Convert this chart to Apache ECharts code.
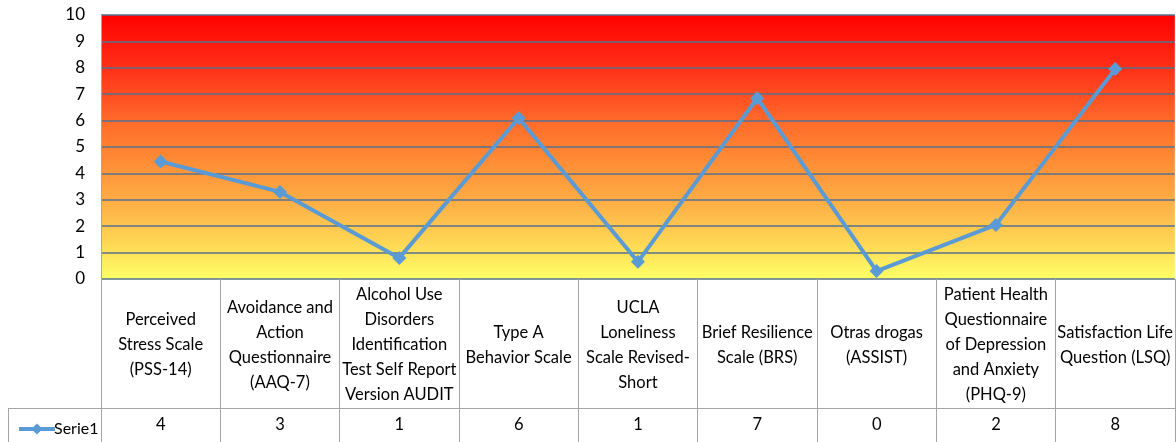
<!DOCTYPE html>
<html>
<head>
<meta charset="utf-8">
<script src="https://cdn.jsdelivr.net/npm/echarts@6/dist/echarts.min.js"></script>
<style>
html,body{margin:0;padding:0;background:#fff;}
#chart{width:1176px;height:442px;}
</style>
</head>
<body>
<div id="chart"></div>
<script>
const categories = [
  'Perceived\nStress Scale\n(PSS-14)',
  'Avoidance and\nAction\nQuestionnaire\n(AAQ-7)',
  'Alcohol Use\nDisorders\nIdentification\nTest Self Report\nVersion AUDIT',
  'Type A\nBehavior Scale',
  'UCLA\nLoneliness\nScale Revised-\nShort',
  'Brief Resilience\nScale (BRS)',
  'Otras drogas\n(ASSIST)',
  'Patient Health\nQuestionnaire\nof Depression\nand Anxiety\n(PHQ-9)',
  'Satisfaction Life\nQuestion (LSQ)'
];
const serieName = 'Serie1';
const serie1 = [4.45, 3.3, 0.8, 6.1, 0.65, 6.85, 0.3, 2.05, 7.95];
const yTicks = [0, 1, 2, 3, 4, 5, 6, 7, 8, 9, 10];

const chart = echarts.init(document.getElementById('chart'));
const font = 'Lato, "Open Sans", sans-serif';
const borderGray = '#a6a6a6';

chart.setOption({
  animation: false,
  backgroundColor: '#ffffff',
  textStyle: { fontFamily: font },
  legend: {
    data: [serieName],
    left: 12, top: 416,
    itemWidth: 36, itemHeight: 14, itemGap: 2,
    lineStyle: { width: 4, color: '#5b9bd5' },
    textStyle: { fontSize: 16, color: '#000', fontFamily: font, padding: [0, 0, 0, -6] }
  },
  grid: [
    {
      left: 101, right: 1, top: 15, bottom: 163,
      show: true, borderWidth: 0,
      backgroundColor: {
        type: 'linear', x: 0, y: 0, x2: 0, y2: 1,
        colorStops: [
          { offset: 0, color: '#ff0000' },
          { offset: 0.2, color: '#ff3018' },
          { offset: 0.4, color: '#ff6a2a' },
          { offset: 0.55, color: '#ff8c35' },
          { offset: 0.7, color: '#fdac45' },
          { offset: 0.85, color: '#fed353' },
          { offset: 1, color: '#ffff66' }
        ]
      }
    },
    { left: 101, right: 1, top: 279, bottom: 0 }
  ],
  xAxis: [
    {
      gridIndex: 0, type: 'category', data: categories, boundaryGap: true,
      axisLine: { show: false }, axisTick: { show: false },
      axisLabel: {
        interval: 0, margin: 66, verticalAlign: 'middle',
        fontSize: 16.5, lineHeight: 25, color: '#000', fontFamily: font
      }
    },
    {
      gridIndex: 1, type: 'category', data: categories, boundaryGap: true, position: 'top',
      axisLine: { show: true, lineStyle: { color: borderGray, width: 1 } },
      axisTick: { show: false }, axisLabel: { show: false },
      splitLine: { show: true, lineStyle: { color: borderGray, width: 1 } }
    },
    {
      gridIndex: 1, type: 'category', data: categories, boundaryGap: true, position: 'bottom',
      axisLine: { show: false }, axisTick: { show: false },
      axisLabel: {
        inside: true, interval: 0, margin: 17, verticalAlign: 'middle',
        fontSize: 16.5, color: '#000', fontFamily: font,
        formatter: (v, i) => String(Math.round(serie1[i]))
      }
    }
  ],
  yAxis: [
    {
      gridIndex: 0, type: 'value', min: yTicks[0], max: yTicks[yTicks.length - 1], interval: 1,
      axisLine: { show: true, lineStyle: { color: borderGray, width: 1 } },
      axisTick: { show: false },
      axisLabel: { margin: 16, fontSize: 17, color: '#000', fontFamily: font },
      splitLine: { show: true, lineStyle: { color: '#56708e', width: 1.5 } }
    },
    {
      gridIndex: 1, type: 'value', min: 0, max: 1,
      axisLine: { show: true, lineStyle: { color: borderGray, width: 1 } },
      axisTick: { show: false }, axisLabel: { show: false }, splitLine: { show: false }
    }
  ],
  graphic: [
    { type: 'line', shape: { x1: 8, y1: 408.5, x2: 1176, y2: 408.5 }, style: { stroke: borderGray, lineWidth: 1 }, z: 10 },
    { type: 'line', shape: { x1: 8.5, y1: 408, x2: 8.5, y2: 442 }, style: { stroke: borderGray, lineWidth: 1 }, z: 10 }
  ],
  series: [
    {
      name: serieName, type: 'line', xAxisIndex: 0, yAxisIndex: 0,
      data: serie1,
      symbol: 'diamond', symbolSize: 14,
      lineStyle: { color: '#5b9bd5', width: 4 },
      itemStyle: { color: '#5b9bd5' },
      z: 5
    }
  ]
});
</script>
</body>
</html>
